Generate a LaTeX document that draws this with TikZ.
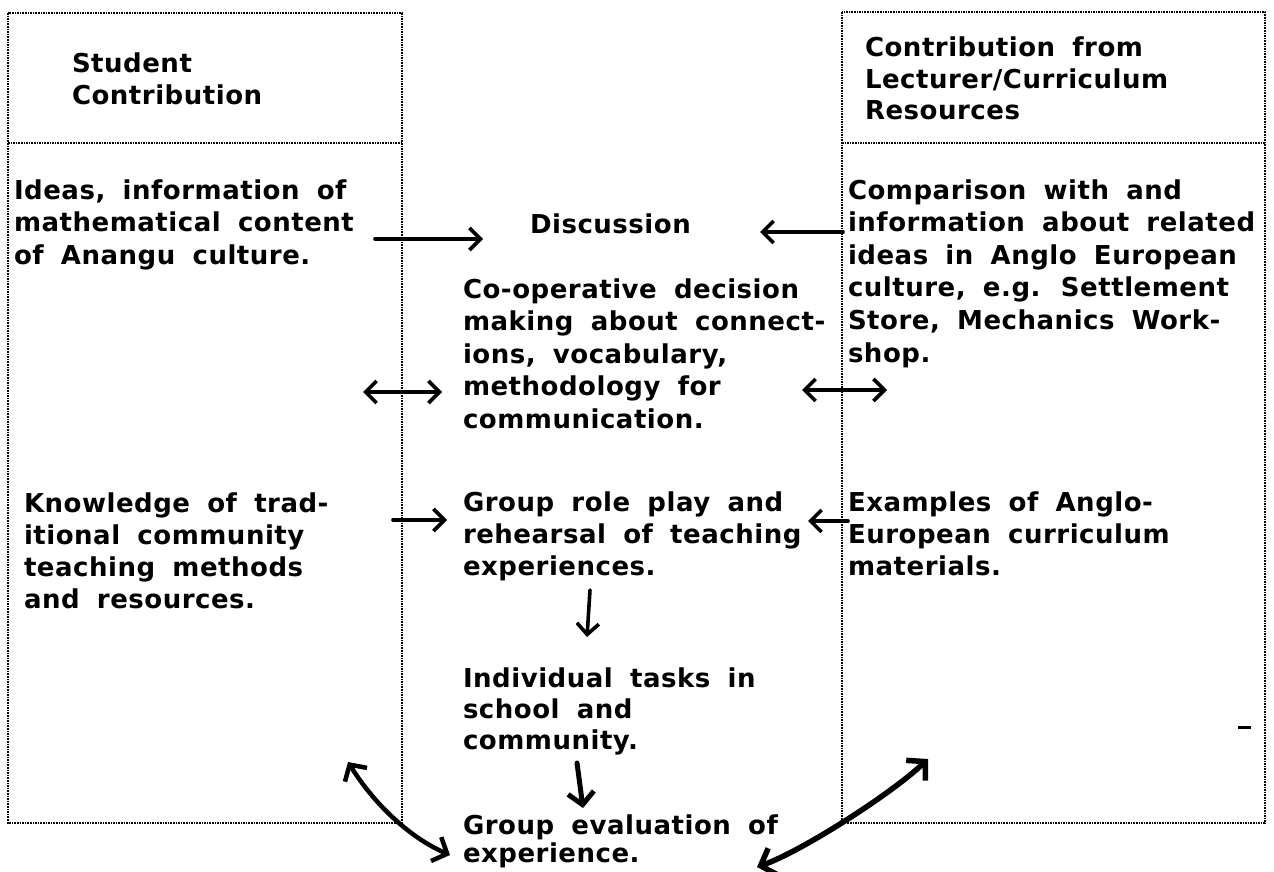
\documentclass[tikz,border=0pt]{standalone}
\usepackage{fontspec}
\setmainfont{DejaVu Sans}
\newfontfamily\lbf{DejaVu Sans}[LetterSpace=2,WordSpace=1.8]
\usetikzlibrary{arrows.meta}
\tikzset{
  colbox/.style={densely dotted, line width=1.6pt},
  lbl/.style={anchor=base west, inner sep=0pt, outer sep=0pt, align=left,
    font=\lbf\bfseries\fontsize{26}{#1}\selectfont},
  lbl/.default=32.6,
  harr/.style={line width=3.6pt, line cap=round,
    -{Straight Barb[length=11pt,width=22pt]}},
  darr/.style={line width=3.6pt, line cap=round,
    {Straight Barb[length=11pt,width=22pt]}-{Straight Barb[length=11pt,width=22pt]}},
}
\begin{document}
\begin{tikzpicture}[x=1pt,y=-1pt]
\useasboundingbox (0,0) rectangle (1274,872);
% column boxes
\draw[colbox] (8,13) rectangle (402,823);
\draw[colbox] (8,143) -- (402,143);
\draw[colbox] (842,12) rectangle (1265,823);
\draw[colbox] (842,143) -- (1265,143);
% texts (anchor = baseline of the last line)
\node[lbl=32] (shead) at (72,105) {Student\\Contribution};
\node[lbl=31.5] (rhead) at (865,120) {Contribution from\\Lecturer/Curriculum\\Resources};
\node[lbl] (ideas) at (14,264.2) {Ideas, information of\\mathematical content\\of Anangu culture.};
\node[lbl] (disc) at (530,233) {Discussion};
\node[lbl] (coop) at (463,428.4) {Co-operative decision\\making about connect-\\ions, vocabulary,\\methodology for\\communication.};
\node[lbl] (comp) at (848,362) {Comparison with and\\information about related\\ideas in Anglo European\\culture, e.g. Settlement\\Store, Mechanics Work-\\shop.};
\node[lbl=32] (know) at (24,608) {Knowledge of trad-\\itional community\\teaching methods\\and resources.};
\node[lbl=32] (role) at (463,575) {Group role play and\\rehearsal of teaching\\experiences.};
\node[lbl=32] (exam) at (848,575) {Examples of Anglo-\\European curriculum\\materials.};
\node[lbl=31] (indiv) at (463,749) {Individual tasks in\\school and\\community.};
\node[lbl=28] (evalu) at (463,862) {Group evaluation of\\experience.};
% connector end points
\coordinate (a1s) at (375,239);  \coordinate (a1e) at (483,239);
\coordinate (a2s) at (843,232);  \coordinate (a2e) at (760,232);
\coordinate (a3s) at (363,392);  \coordinate (a3e) at (442,392);
\coordinate (a4s) at (802,390);  \coordinate (a4e) at (887,390);
\coordinate (a5s) at (393,520);  \coordinate (a5e) at (447,520);
\coordinate (a6s) at (848,521);  \coordinate (a6e) at (808,521);
\coordinate (a7s) at (590,590);  \coordinate (a7e) at (587,637);
\coordinate (a8s) at (577,763);  \coordinate (a8e) at (583,808);
\coordinate (a9s) at (348,762);  \coordinate (a9e) at (450,855);
\coordinate (b9s) at (928,759);  \coordinate (b9e) at (757,867);
% connectors
\draw[harr] (a1s) -- (a1e);
\draw[harr] (a2s) -- (a2e);
\draw[darr] (a3s) -- (a3e);
\draw[darr] (a4s) -- (a4e);
\draw[harr] (a5s) -- (a5e);
\draw[harr] (a6s) -- (a6e);
\draw[harr] (a7s) -- (a7e);
\draw[line width=5pt, line cap=round, -{Straight Barb[length=12pt,width=26pt]}] (a8s) -- (a8e);
\draw[line width=4.5pt, line cap=round, {Straight Barb[length=12pt,width=26pt]}-{Straight Barb[length=12pt,width=26pt]}]
  (a9s) .. controls (378,810) and (415,840) .. (a9e);
\draw[line width=5.5pt, line cap=round, {Straight Barb[length=13pt,width=28pt]}-{Straight Barb[length=13pt,width=28pt]}]
  (b9s) .. controls (890,795) and (800,852) .. (b9e);
% stray mark
\draw[line width=3pt] (1238,727) -- (1251,727);
\end{tikzpicture}
\end{document}
